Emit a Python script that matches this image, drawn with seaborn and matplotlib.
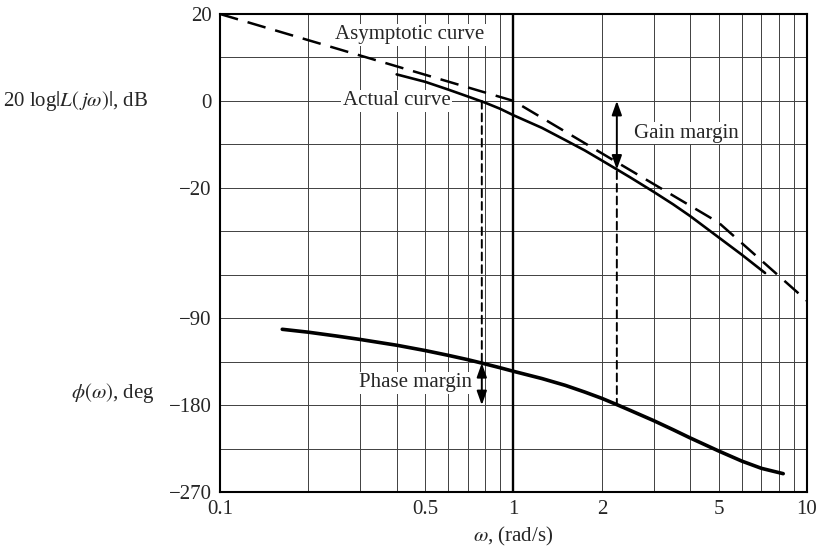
import numpy as np
import pandas as pd
import matplotlib
matplotlib.use("Agg")
import matplotlib.pyplot as plt
import seaborn as sns

# 데이터
asym_w = [0.1, 1.0, 5.0, 10.0]
asym_db = [20.0, 0.0, -28.0, -46.0]

mag_w = [0.4, 0.5, 0.6, 0.7, 0.8, 0.9, 1.0, 1.25, 1.5, 1.75, 2.0, 2.5, 3.0, 3.5, 4.0, 5.0, 6.0, 7.2]
mag_db = [6.1, 4.4, 2.6, 1.0, -0.4, -1.8, -3.3, -6.2, -9.0, -11.4, -13.7, -17.6, -20.9, -23.8, -26.5, -31.4, -35.4, -39.6]

phase_w = [0.163, 0.2, 0.25, 0.3, 0.4, 0.5, 0.6, 0.7, 0.78, 0.9, 1.0, 1.25, 1.5, 1.75,
           2.0, 2.25, 2.5, 3.0, 3.5, 4.0, 5.0, 6.0, 7.0, 8.3]
phase_deg = [-101.5, -104.5, -108.5, -112.0, -118.0, -123.5, -128.5, -133.0, -136.5, -141.3,
             -145.0, -152.5, -159.5, -166.5, -173.0, -179.5, -185.5, -196.0, -205.5, -214.0,
             -227.5, -238.0, -245.5, -251.0]

gm_w, gm_db = 2.25, -15.8
pm_w, pm_phase = 0.78, -136.5

db_ticks = [20, 0, -20]
db_tick_labels = ["20", "0", "\u221220"]
phase_ticks = [-90, -180, -270]
phase_tick_labels = ["\u221290", "\u2212180", "\u2212270"]
x_ticks = [0.1, 0.5, 1, 2, 5, 10]
x_tick_labels = ["0.1", "0.5", "1", "2", "5", "10"]

sns.set_theme(style="white")
plt.rcParams['font.family'] = ['Liberation Serif', 'DejaVu Serif']
plt.rcParams['mathtext.fontset'] = 'stix'
plt.rcParams['axes.unicode_minus'] = True

fig = plt.figure(figsize=(8.19, 5.49), dpi=100)
ax = fig.add_axes([0.2686, 0.1038, 0.7167, 0.8707])
ax.set_xscale('log')
ax.set_xlim(0.1, 10)
ax.set_ylim(-90, 20)

# 그리드
grid_kw = dict(color='0.25', lw=0.7, zorder=0)
for w in [0.2, 0.3, 0.4, 0.5, 0.6, 0.7, 0.8, 0.9, 2, 3, 4, 5, 6, 7, 8, 9]:
    ax.axvline(w, **grid_kw)
for y in range(10, -90, -10):
    ax.axhline(y, **grid_kw)
ax.axvline(1, color='black', lw=1.7, zorder=1)

ax2 = ax.twinx()
ax2.set_ylim(-270, 225)

# 곡선
asym_df = pd.DataFrame({'w': asym_w, 'db': asym_db})
mag_df = pd.DataFrame({'w': mag_w, 'db': mag_db})
phase_df = pd.DataFrame({'w': phase_w, 'deg': phase_deg})

sns.lineplot(data=asym_df, x='w', y='db', ax=ax, color='black', lw=1.8,
             linestyle=(0, (7.5, 4)), sort=False, zorder=3)
sns.lineplot(data=mag_df, x='w', y='db', ax=ax, color='black', lw=1.9, sort=False, zorder=3)
sns.lineplot(data=phase_df, x='w', y='deg', ax=ax2, color='black', lw=2.6, sort=False, zorder=3)

# 여유 표시
dash_kw = dict(arrowstyle='-', color='black', lw=1.4, linestyle=(0, (4, 2.5)),
               shrinkA=0, shrinkB=0)
ax.annotate('', xy=(pm_w, pm_phase), xycoords=ax2.transData,
            xytext=(pm_w, 0), textcoords=ax.transData, arrowprops=dash_kw)
ax.annotate('', xy=(gm_w, -180), xycoords=ax2.transData,
            xytext=(gm_w, gm_db - 0.4), textcoords=ax.transData, arrowprops=dash_kw)

arr_kw = dict(arrowstyle='<|-|>,head_length=0.7,head_width=0.25', color='black', lw=1.4,
              shrinkA=0, shrinkB=0)
ax.annotate('', xy=(gm_w, gm_db), xytext=(gm_w, 0), arrowprops=arr_kw, zorder=4)
ax2.annotate('', xy=(pm_w, -180), xytext=(pm_w, pm_phase), arrowprops=arr_kw, zorder=4)

box = dict(facecolor='white', edgecolor='none', pad=1.0)
fs = 15
ax.text(0.795, 15.2, 'Asymptotic curve', ha='right', va='center', fontsize=fs, bbox=box, zorder=2)
ax.text(0.61, 0, 'Actual curve', ha='right', va='center', fontsize=fs, bbox=box, zorder=2)
ax.text(2.57, -7.4, 'Gain margin', ha='left', va='center', fontsize=fs, bbox=box, zorder=2)
ax2.text(0.72, -157, 'Phase margin', ha='right', va='center', fontsize=fs, bbox=box, zorder=2)

# 축
ax.set_xticks(x_ticks)
ax.set_xticklabels(x_tick_labels, fontsize=fs)
ax.xaxis.set_minor_locator(matplotlib.ticker.NullLocator())
ax.set_yticks(db_ticks)
ax.set_yticklabels(db_tick_labels, fontsize=fs)
ax.tick_params(length=0, pad=6)
ax.set_xlabel(r'$\omega$, (rad/s)', fontsize=fs, labelpad=4)
ax.set_ylabel('')
ax2.set_ylabel('')

ax2.yaxis.set_ticks_position('left')
ax2.yaxis.set_label_position('left')
ax2.set_yticks(phase_ticks)
ax2.set_yticklabels(phase_tick_labels, fontsize=fs)
ax2.tick_params(length=0, pad=6)
for s in ax2.spines.values():
    s.set_visible(False)
for s in ax.spines.values():
    s.set_color('black')
    s.set_linewidth(1.5)

ax.text(-0.123, 0, r'20 log$|L(\,j\omega)|$, dB', transform=ax.get_yaxis_transform(),
        ha='right', va='center', fontsize=fs)
ax2.text(-0.111, -167, r'$\phi(\omega)$, deg', transform=ax2.get_yaxis_transform(),
         ha='right', va='center', fontsize=fs)

fig.savefig('out.png', dpi=100)
